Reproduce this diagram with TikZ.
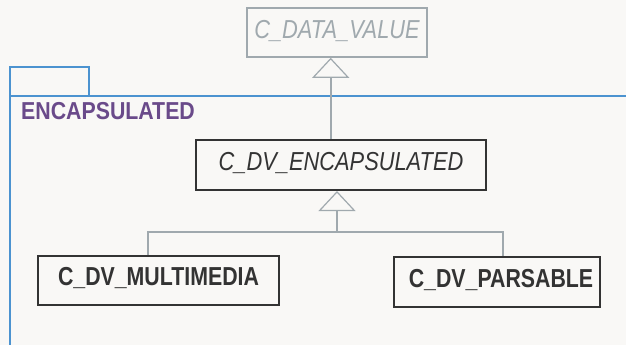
\documentclass[tikz,border=0pt]{standalone}
\usepackage{fontspec}
\setmainfont{Liberation Sans}[FakeStretch=0.84, BoldFeatures={FakeStretch=0.82}, BoldItalicFeatures={FakeStretch=0.82}]
\newfontfamily\pkgfont{Liberation Sans}[FakeStretch=0.87]
\usetikzlibrary{arrows.meta}
\definecolor{bgc}{HTML}{F9F8F6}
\definecolor{grayc}{HTML}{A0A9AE}
\definecolor{darkc}{HTML}{333333}
\definecolor{bluec}{HTML}{4C93D0}
\definecolor{purplec}{HTML}{6A4A8A}
\tikzset{
  cls/.style={draw=darkc, line width=2pt, text=darkc, inner sep=0pt, text height=18.7pt, text depth=8pt, font=\fontsize{26}{28}\selectfont},
  abscls/.style={cls, font=\fontsize{26}{28}\selectfont\itshape},
  conccls/.style={cls, font=\fontsize{26}{28}\selectfont\bfseries},
  gen/.style={draw=grayc, line width=1.6pt, -{Triangle[open, length=20pt, width=37pt, line width=1.2pt]}},
  pkg/.style={draw=bluec, line width=1.6pt},
}
\begin{document}
\begin{tikzpicture}[x=1pt, y=-1pt]
\fill[bgc] (0,0) rectangle (626,345);
\useasboundingbox (0,0) rectangle (626,345);
% package
\draw[pkg] (10,96) rectangle (89,67);
\draw[pkg] (660,96) -- (10,96) -- (10,380);
\node[anchor=base west, text=purplec, inner sep=0pt, font=\fontsize{24.5}{26}\pkgfont\bfseries] (pkgname) at (21,119.3) {ENCAPSULATED};
% classes
\node[abscls, draw=grayc, line width=1.6pt, text=grayc, text depth=6pt, minimum width=180pt, minimum height=49pt] (dv) at (337,32.5) {C\_DATA\_VALUE};
\node[abscls, minimum width=290pt, minimum height=50pt] (enc) at (341,165) {C\_DV\_ENCAPSULATED};
\node[conccls, minimum width=241pt, minimum height=49pt] (mm) at (158.5,280.5) {C\_DV\_MULTIMEDIA};
\node[conccls, minimum width=206pt, minimum height=50pt] (pa) at (497,282) {\hspace{8pt}C\_DV\_PARSABLE};
% generalizations
\coordinate (s1) at (330.7,0);
\coordinate (j) at (337,232);
\coordinate (lx) at (148,0);
\coordinate (rx) at (503,0);
\draw[gen] (enc.north -| s1) -- (dv.south -| s1);
\draw[draw=grayc, line width=1.6pt] (mm.north -| lx) -- (lx |- j) -- (rx |- j) -- (pa.north -| rx);
\draw[gen] (j) -- (enc.south -| j);
\end{tikzpicture}
\end{document}
